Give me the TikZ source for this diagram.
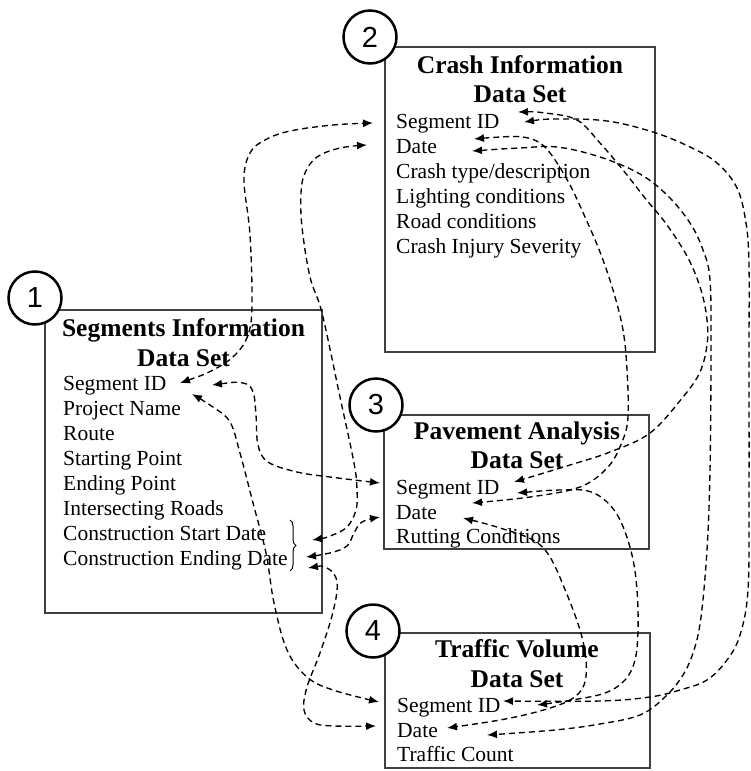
\documentclass[tikz,border=0pt]{standalone}
\usepackage{fontspec}
\setmainfont{Liberation Serif}
\newfontfamily\circfont{Liberation Sans}
\usetikzlibrary{arrows.meta,decorations.pathreplacing}
\begin{document}
\begin{tikzpicture}[x=1pt,y=-1pt,
  dbox/.style={draw=black!75, line width=2pt, inner sep=0pt, outer sep=0pt},
  ttl/.style={font=\bfseries\fontsize{25.5}{30}\selectfont, anchor=base, inner sep=0pt},
  itm/.style={font=\fontsize{21.5}{25}\selectfont, anchor=base west, inner sep=0pt},
  num/.style={circle, draw=black, line width=2.5pt, fill=white, minimum size=53pt, inner sep=0pt, font=\circfont\fontsize{29}{29}\selectfont},
  conn/.style={line width=1.35pt, dash pattern=on 6pt off 4pt, {Latex[length=10pt,width=8pt]}-{Latex[length=10pt,width=8pt]}},
  sm/.style={smooth, tension=0.6}
]
\useasboundingbox (0,0) rectangle (751,771);

% boxes
\node[dbox, minimum width=277pt, minimum height=303pt] (b1) at (183.5,461.5) {};
\node[dbox, minimum width=270pt, minimum height=305pt] (b2) at (520,199.5) {};
\node[dbox, minimum width=265pt, minimum height=134pt] (b3) at (516.5,482) {};
\node[dbox, minimum width=265pt, minimum height=135pt] (b4) at (517.5,700.5) {};

% box 1 text
\node[ttl] (t1a) at (183.5,336) {Segments Information};
\node[ttl] (t1b) at (183.5,366) {Data Set};
\node[itm] (i11) at (63,390) {Segment ID};
\node[itm] (i12) at (63,415) {Project Name};
\node[itm] (i13) at (63,440) {Route};
\node[itm] (i14) at (63,465) {Starting Point};
\node[itm] (i15) at (63,490) {Ending Point};
\node[itm] (i16) at (63,515) {Intersecting Roads};
\node[itm] (i17) at (63,540) {Construction Start Date};
\node[itm] (i18) at (63,565) {Construction Ending Date};
\coordinate (brt) at (290,520);
\coordinate (brb) at (290,571);
\draw[decorate, decoration={brace, amplitude=6pt}, line width=1pt] (brt) -- (brb);

% box 2 text
\node[ttl] (t2a) at (520,73) {Crash Information};
\node[ttl] (t2b) at (520,102) {Data Set};
\node[itm] (i21) at (396,128) {Segment ID};
\node[itm] (i22) at (396,153) {Date};
\node[itm] (i23) at (396,178) {Crash type/description};
\node[itm] (i24) at (396,203) {Lighting conditions};
\node[itm] (i25) at (396,228) {Road conditions};
\node[itm] (i26) at (396,253) {Crash Injury Severity};

% box 3 text
\node[ttl] (t3a) at (517,439) {Pavement Analysis};
\node[ttl] (t3b) at (517,468) {Data Set};
\node[itm] (i31) at (396,494) {Segment ID};
\node[itm] (i32) at (396,519) {Date};
\node[itm] (i33) at (396,543) {Rutting Conditions};

% box 4 text
\node[ttl] (t4a) at (517,657) {Traffic Volume};
\node[ttl] (t4b) at (517,687) {Data Set};
\node[itm] (i41) at (397,712) {Segment ID};
\node[itm] (i42) at (397,737) {Date};
\node[itm] (i43) at (397,761) {Traffic Count};

% connector ends
\coordinate (p12a) at (180,383);  \coordinate (p12b) at (373,123);
\coordinate (p13a) at (212,385);  \coordinate (p13b) at (380,483);
\coordinate (p14a) at (192,394);  \coordinate (p14b) at (379,702);
\coordinate (d12a) at (312,540);  \coordinate (d12b) at (367,145);
\coordinate (d13a) at (306,557);  \coordinate (d13b) at (380,517);
\coordinate (d14a) at (308,568);  \coordinate (d14b) at (376,726);
\coordinate (s23a) at (518,112);  \coordinate (s23b) at (514,482);
\coordinate (s24a) at (524,122);  \coordinate (s24b) at (503,701);
\coordinate (e23a) at (474,139);  \coordinate (e23b) at (472,503);
\coordinate (e24a) at (472,151);  \coordinate (e24b) at (487,735);
\coordinate (s34a) at (517,493);  \coordinate (s34b) at (537,705);
\coordinate (e34a) at (463,518);  \coordinate (e34b) at (447,728);

% connectors
\draw[conn] plot[sm] coordinates {(p12a) (213,370) (235,355) (248,335) (252,305) (250,235) (244,180) (250,153) (265,140) (290,131) (333,125) (p12b)};
\draw[conn] plot[sm] coordinates {(p13a) (243,383) (253,392) (256,415) (258,445) (268,462) (297,472) (330,477) (p13b)};
\draw[conn] plot[sm] coordinates {(p14a) (213,407) (230,422) (240,453) (253,503) (266,553) (274,603) (287,650) (307,677) (333,690) (p14b)};
\draw[conn] plot[sm] coordinates {(d12a) (330,536) (347,527) (356,510) (357,490) (354,463) (340,397) (322,313) (310,277) (302,227) (301,193) (305,173) (317,157) (340,148) (d12b)};
\draw[conn] plot[sm] coordinates {(d13a) (330,553) (347,546) (354,533) (362,522) (d13b)};
\draw[conn] plot[sm] coordinates {(d14a) (327,568) (337,582) (333,612) (320,653) (307,687) (304,710) (314,723) (335,726) (d14b)};
\draw[conn] plot[sm] coordinates {(s23a) (545,113) (577,120) (600,143) (623,170) (645,198) (667,225) (688,258) (701,290) (707,320) (707,345) (700,372) (683,397) (650,433) (610,452) (570,465) (s23b)};
\draw[conn] plot[sm] coordinates {(s24a) (557,119) (607,121) (653,132) (690,147) (717,163) (737,188) (746,223) (749,265) (749,350) (749,500) (748,590) (740,635) (727,660) (707,680) (680,690) (650,697) (600,701) (s24b)};
\draw[conn] plot[sm] coordinates {(e23a) (500,137) (523,137) (540,143) (553,157) (570,185) (585,217) (600,252) (613,290) (623,330) (627,370) (628,417) (622,442) (608,467) (580,487) (530,497) (e23b)};
\draw[conn] plot[sm] coordinates {(e24a) (520,148) (557,147) (600,157) (640,174) (668,196) (690,223) (703,250) (710,280) (711,350) (710,470) (707,550) (701,617) (694,650) (683,675) (665,697) (640,715) (600,724) (555,730) (e24b)};
\draw[conn] plot[sm] coordinates {(s34a) (560,490) (588,491) (607,502) (621,522) (632,555) (637,590) (638,630) (635,660) (625,680) (605,693) (572,700) (s34b)};
\draw[conn] plot[sm] coordinates {(e34a) (500,528) (533,540) (550,557) (566,592) (580,630) (586,660) (584,685) (570,700) (540,711) (500,720) (e34b)};

% number circles
\node[num] (c1) at (35,298) {1};
\node[num] (c2) at (370,37) {2};
\node[num] (c3) at (376,405) {3};
\node[num] (c4) at (373,631) {4};
\end{tikzpicture}
\end{document}
